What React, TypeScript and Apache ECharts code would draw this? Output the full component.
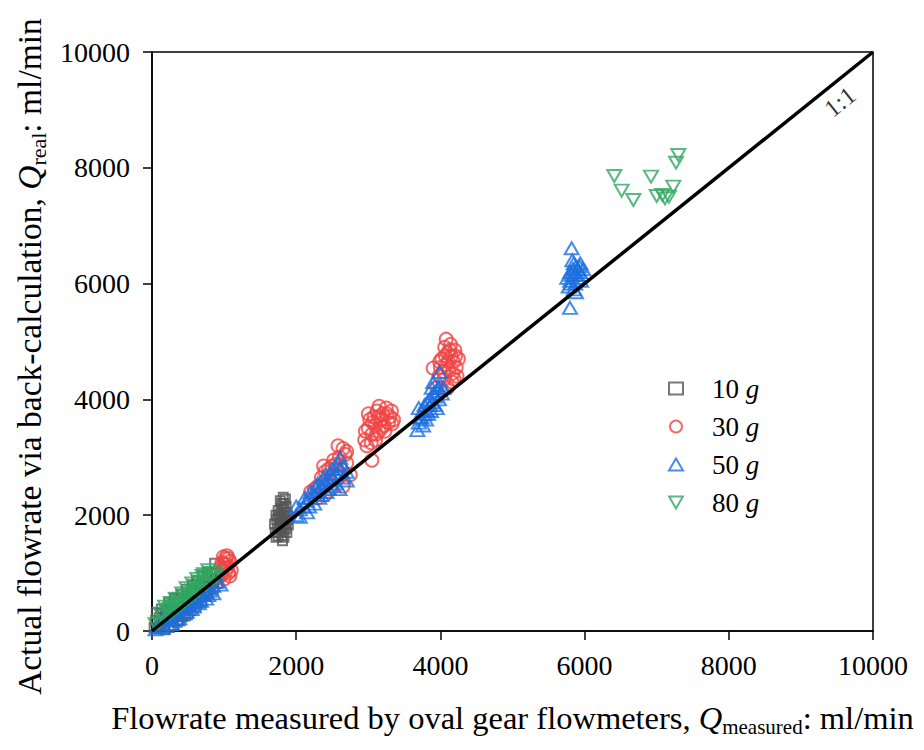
import React, { useEffect, useRef } from "react";
import * as echarts from "echarts";

const FONT = "'Liberation Serif', 'Times New Roman', serif";

const xTicks = [0, 2000, 4000, 6000, 8000, 10000];
const seriesNames = ["10 g", "30 g", "50 g", "80 g"];

const gray10: number[][] = [
  [30, 60], [50, 180], [80, 40], [100, 230], [120, 120], [150, 300], [170, 90], [200, 350],
  [220, 180], [260, 420], [280, 200], [300, 480], [330, 260], [360, 520], [390, 300], [420, 560],
  [450, 380], [480, 600], [510, 420], [540, 660], [570, 480], [600, 720], [630, 560], [660, 800],
  [690, 620], [720, 860], [750, 700], [780, 920], [800, 760], [830, 1000], [860, 850], [870, 1170],
  [880, 900], [350, 150], [240, 60], [180, 20], [420, 250], [500, 300], [640, 480], [740, 600],
  [60, 320], [130, 380], [230, 500], [310, 560], [400, 640], [480, 720], [560, 800], [620, 870],
  [700, 950], [770, 1020], [300, 90], [380, 180], [460, 260], [540, 350], [610, 420], [690, 500],
  [780, 640], [850, 720], [910, 820], [940, 950],
  [1720, 1620], [1760, 1700], [1800, 1650], [1830, 1750], [1780, 1800], [1850, 1850], [1810, 1900],
  [1760, 1950], [1840, 1980], [1790, 2020], [1870, 2050], [1820, 2100], [1750, 2080], [1860, 2150],
  [1800, 2200], [1850, 2280], [1780, 1880], [1740, 1760], [1880, 1920], [1830, 1620], [1810, 1560],
  [1790, 2120], [1870, 1700], [1760, 2000], [1700, 1850], [1730, 1920], [1770, 1850], [1820, 1820],
  [1860, 1780], [1890, 1830], [1710, 1700], [1800, 1960], [1840, 2050], [1780, 2250], [1820, 2310],
  [1750, 1640], [1790, 1720], [1880, 2000], [1720, 2000], [1830, 2200]
];

const red30: number[][] = [
  [950, 950], [980, 1050], [1000, 1150], [1020, 1250], [1050, 1100], [1060, 1000], [1080, 1200],
  [1000, 900], [1040, 1300], [1100, 1050], [970, 1180], [1020, 1020], [1060, 1250], [990, 1280],
  [1080, 950], [1030, 1150], [950, 1100],
  [2200, 2400], [2300, 2500], [2350, 2650], [2400, 2750], [2450, 2600], [2500, 2850], [2550, 2700],
  [2600, 3000], [2650, 3150], [2700, 2900], [2580, 3200], [2480, 2450], [2650, 2500], [2750, 2700],
  [2400, 2350], [2620, 2800], [2520, 2950], [2700, 3100], [2300, 2300], [2380, 2850], [2550, 2880],
  [2680, 3050], [2600, 2650], [2450, 2800], [2250, 2450],
  [2950, 3300], [3000, 3500], [3020, 3650], [3050, 3400], [3080, 3700], [3100, 3550], [3120, 3800],
  [3150, 3450], [3180, 3650], [3200, 3750], [3220, 3550], [3250, 3850], [3280, 3600], [3300, 3700],
  [3320, 3800], [3350, 3650], [3050, 2950], [2980, 3200], [3100, 3300], [3230, 3450], [3000, 3750],
  [3150, 3880], [2960, 3450], [3060, 3600], [3140, 3700], [3190, 3520], [3260, 3750], [3330, 3580],
  [3040, 3250], [3110, 3400],
  [3950, 4200], [3980, 4400], [4000, 4550], [4020, 4700], [4050, 4350], [4080, 4600], [4080, 5040],
  [4100, 4800], [4120, 4500], [4150, 4750], [4160, 4300], [4180, 4650], [4200, 4850], [4220, 4550],
  [4250, 4700], [4100, 4200], [4060, 4900], [4140, 4950], [3990, 4650], [4230, 4400], [3900, 4540],
  [4040, 4480], [4110, 4650], [4170, 4450], [4210, 4750], [4130, 4850], [4070, 4750], [4190, 4350]
];

const blue50: number[][] = [
  [50, 30], [100, 80], [150, 60], [200, 180], [250, 120], [300, 280], [350, 200], [400, 380],
  [450, 300], [500, 450], [550, 380], [600, 550], [650, 480], [700, 620], [750, 560], [800, 700],
  [850, 650], [300, 400], [400, 500], [500, 600], [200, 300], [600, 700], [900, 850], [950, 800],
  [150, 200], [250, 250], [350, 350], [450, 420], [550, 500], [650, 600], [750, 680], [850, 780],
  [280, 120], [380, 220], [480, 330], [580, 420], [680, 520], [780, 620],
  [2000, 2000], [2050, 2100], [2100, 2150], [2150, 2250], [2200, 2300], [2250, 2350], [2300, 2400],
  [2350, 2500], [2400, 2550], [2450, 2600], [2500, 2650], [2550, 2700], [2600, 2800], [2650, 2850],
  [2610, 2990], [2700, 2750], [2150, 2050], [2250, 2200], [2350, 2350], [2450, 2450], [2550, 2550],
  [2650, 2650], [2300, 2550], [2400, 2700], [2500, 2800], [2200, 2400], [2050, 1970], [2700, 2600],
  [2600, 2450], [2000, 2150], [2120, 2300], [2280, 2480], [2380, 2620], [2480, 2720], [2580, 2880],
  [2320, 2300], [2420, 2400], [2520, 2500], [2180, 2150],
  [3680, 3470], [3700, 3600], [3720, 3700], [3750, 3800], [3780, 3900], [3800, 3650], [3820, 3950],
  [3850, 4000], [3870, 3800], [3900, 4100], [3920, 3900], [3950, 4150], [3980, 4000], [3990, 4470],
  [4000, 4250], [4020, 4100], [3760, 3550], [3880, 4200], [3950, 3850], [3830, 3750], [3700, 3850],
  [3900, 4300], [4040, 4200], [3740, 3680], [3810, 3820], [3860, 3900], [3930, 4050], [3970, 4200],
  [3790, 3750], [3890, 3950],
  [5797, 5580], [5820, 6610], [5780, 5950], [5800, 6050], [5820, 6150], [5840, 6250], [5850, 5900],
  [5870, 6000], [5880, 6300], [5900, 6100], [5920, 6200], [5940, 6350], [5950, 6050], [5960, 6150],
  [5980, 6250], [5830, 6400], [5760, 6100], [5880, 5850], [5930, 6300], [5850, 6350], [5810, 6000],
  [5860, 6150], [5910, 6250], [5800, 6200]
];

const green80: number[][] = [
  [150, 250], [200, 350], [250, 300], [300, 450], [350, 400], [400, 550], [450, 500], [500, 650],
  [550, 600], [600, 750], [650, 700], [700, 850], [750, 800], [800, 950], [850, 900], [820, 1000],
  [700, 950], [600, 650], [500, 550], [300, 350], [400, 450], [100, 150], [780, 1050], [650, 850],
  [120, 300], [180, 420], [260, 480], [330, 560], [420, 650], [480, 740], [560, 820], [630, 900],
  [720, 980], [880, 1000], [900, 950], [560, 700], [460, 600], [360, 500], [240, 380], [50, 120],
  [6412, 7858], [6514, 7605], [6676, 7444], [6921, 7847], [7000, 7513], [7115, 7473], [7170, 7501],
  [7230, 7674], [7268, 8088], [7300, 8221], [7080, 7530]
];

const oneToOne: number[][] = [[0, 0], [10000, 10000]];
const oneToOneLabelPos: number[][] = [[9540, 9140]];

const colors = ["#555555", "#F04545", "#1C6FE0", "#2FA860"];

export default function App() {
  const ref = useRef<HTMLDivElement>(null);
  useEffect(() => {
    if (!ref.current) return;
    const chart = echarts.init(ref.current, null, { renderer: "svg" });
    const hollow = (c: string) => ({ color: "rgba(0,0,0,0)", borderColor: c, borderWidth: 2 });
    const mkRich = (fs: number) => ({
      a: { fontFamily: FONT, fontSize: fs, color: "#000", lineHeight: fs + 6, verticalAlign: "middle" },
      q: { fontFamily: FONT, fontSize: fs, color: "#000", fontStyle: "italic", lineHeight: fs + 6, verticalAlign: "middle" },
      s: { fontFamily: FONT, fontSize: Math.round(fs * 0.65), color: "#000", lineHeight: Math.round(fs * 0.75), verticalAlign: "bottom" },
      p: { fontFamily: FONT, fontSize: fs, width: 30, lineHeight: fs + 6 }
    });
    chart.setOption({
      animation: false,
      backgroundColor: "#fff",
      grid: {
        left: 152, right: 51, top: 52, bottom: 119,
        outerBoundsMode: "none",
        containLabel: false,
        show: true, borderColor: "#000", borderWidth: 1.5, backgroundColor: "transparent"
      },
      legend: {
        data: [
          { name: seriesNames[0] },
          { name: seriesNames[1] },
          { name: seriesNames[2] },
          { name: seriesNames[3], icon: "path://M0,0 L12,0 L6,10.5 Z" }
        ],
        orient: "vertical",
        left: 663,
        top: 370,
        itemGap: 11,
        itemWidth: 14,
        itemHeight: 12,
        formatter: (n: string) => `{n|${n.split(" ")[0]} }{i|g}`,
        textStyle: {
          rich: {
            n: { fontFamily: FONT, fontSize: 27, color: "#000", padding: [0, 0, 0, 24] },
            i: { fontFamily: FONT, fontSize: 27, color: "#000", fontStyle: "italic" }
          }
        }
      },
      xAxis: {
        type: "value",
        min: xTicks[0],
        max: xTicks[xTicks.length - 1],
        interval: 2000,
        splitLine: { show: false },
        axisLine: { lineStyle: { color: "#000", width: 1.5 } },
        axisTick: { show: true, inside: false, length: 9, lineStyle: { color: "#000", width: 1.5 } },
        axisLabel: { fontFamily: FONT, fontSize: 28, color: "#000", margin: 20, formatter: (v: number) => String(v) },
        name: "{a|Flowrate measured by oval gear flowmeters, }{q|Q}{s|measured}{a|: ml/min}",
        nameLocation: "middle",
        nameGap: 68,
        nameTextStyle: { rich: mkRich(32.5) }
      },
      yAxis: {
        type: "value",
        min: 0,
        max: 10000,
        interval: 2000,
        splitLine: { show: false },
        axisLine: { lineStyle: { color: "#000", width: 1.5 } },
        axisTick: { show: true, inside: false, length: 9, lineStyle: { color: "#000", width: 1.5 } },
        axisLabel: { fontFamily: FONT, fontSize: 28, color: "#000", margin: 22, formatter: (v: number) => String(v) },
        name: "{a|Actual flowrate via back-calculation, }{q|Q}{s|real}{a|: ml/min}{p|}",
        nameLocation: "middle",
        nameGap: 102,
        nameRotate: 90,
        nameTextStyle: { rich: mkRich(33.5) }
      },
      series: [
        { type: "scatter", name: seriesNames[0], data: gray10, symbol: "rect", symbolSize: 9, itemStyle: hollow(colors[0]), z: 2 },
        { type: "scatter", name: seriesNames[1], data: red30, symbol: "circle", symbolSize: 13, itemStyle: hollow(colors[1]), z: 3 },
        { type: "scatter", name: seriesNames[2], data: blue50, symbol: "triangle", symbolSize: [14, 12], itemStyle: hollow(colors[2]), z: 4 },
        { type: "scatter", name: seriesNames[3], data: green80, symbol: "triangle", symbolRotate: 180, symbolSize: [14, 12], itemStyle: hollow(colors[3]), z: 5 },
        {
          type: "line", name: "1:1", data: oneToOne, symbol: "none", silent: true, z: 10,
          lineStyle: { color: "#000", width: 3.5 }
        },
        {
          type: "scatter", name: "1:1 label", data: oneToOneLabelPos, symbolSize: 0, silent: true, z: 11,
          label: { show: true, position: "inside", formatter: "1:1", rotate: 39, fontFamily: FONT, fontSize: 25, color: "#000" }
        }
      ]
    });
    return () => chart.dispose();
  }, []);
  return <div ref={ref} style={{ width: 924, height: 750, position: "absolute", left: 0, top: 0 }} />;
}
